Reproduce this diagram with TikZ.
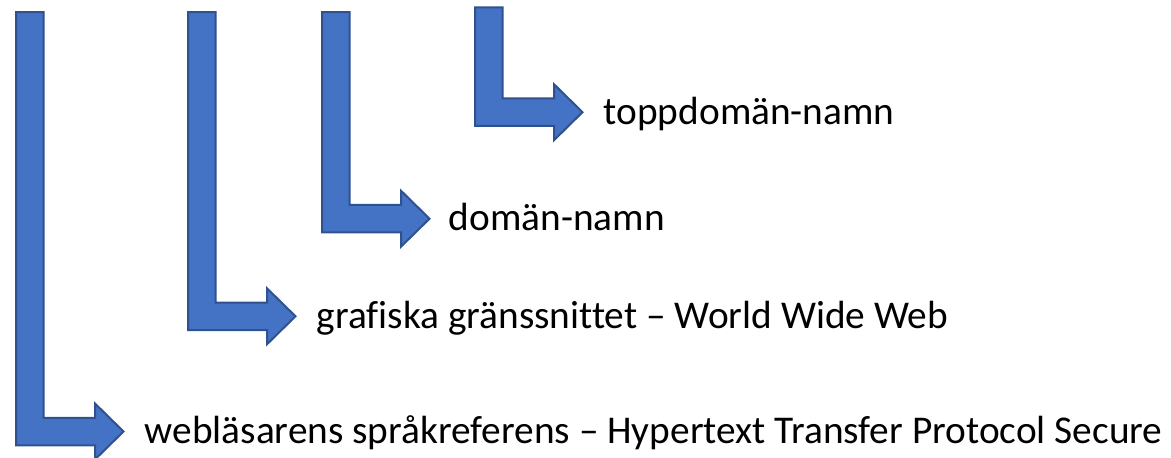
\documentclass[tikz,border=0pt]{standalone}
\usepackage{fontspec}
\setmainfont{Carlito}[Ligatures={NoCommon}]
\usetikzlibrary{positioning,calc}
\definecolor{pilfyll}{HTML}{4472C4}
\definecolor{pilkant}{HTML}{2F528F}
\tikzset{
  pil/.style={fill=pilfyll, draw=pilkant, line width=1.5pt, line join=miter},
  etikett/.style={anchor=base west, inner sep=0pt, font=\fontsize{29.5}{34}\selectfont},
}

\begin{document}
\begin{tikzpicture}[x=0.75pt, y=-0.75pt]
  \useasboundingbox (0,0) rectangle (1171,457);
  % bent arrows: number/left/top/bar centre
  \foreach \n/\l/\t/\c in {1/16/12/431.5, 2/188/12/316.3, 3/322/12/218.7, 4/475/7.3/112.2} {
    \draw[pil] (\l,\t) -- ++(27.5,0) |- (\l+79,\c-13.75) -- (\l+79,\c-28)
      -- (\l+107.5,\c) coordinate (spets\n) -- (\l+79,\c+28) -- (\l+79,\c+13.75)
      -- (\l,\c+13.75) -- cycle;
  }
  \node[etikett] (webbl) at ($(spets1)+(21,12)$) {webläsarens språkreferens – Hypertext Transfer Protocol Secure};
  \node[etikett] (grafik) at ($(spets2)+(21,12)$) {grafiska gränssnittet – World Wide Web};
  \node[etikett] (doman) at ($(spets3)+(19,12)$) {domän-namn};
  \node[etikett] (topp) at ($(spets4)+(21,12)$) {toppdomän-namn};
\end{tikzpicture}
\end{document}
